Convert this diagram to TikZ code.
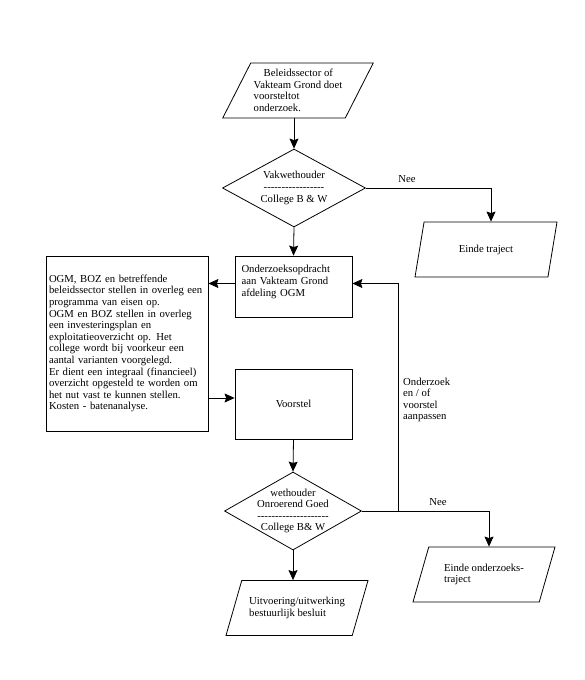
\documentclass[tikz,border=0pt]{standalone}
\usepackage{fontspec}
\setmainfont{Liberation Serif}
\usetikzlibrary{shapes.geometric, arrows.meta}

\newcommand{\dashrow}[1]{\foreach \k in {1,...,#1}{-\kern0pt}}

\begin{document}
\begin{tikzpicture}[x = 1pt, y = -1pt,
	font = \fontsize{10.7}{11.6}\selectfont,
	flow/.style = {line width = 0.8pt, -{Stealth[length = 10pt, width = 9pt, inset = 1.5pt]}},
	block/.style = {draw, rectangle, line width = 0.8pt},
	choice/.style = {draw, diamond, aspect = 1.8, line width = 0.8pt, align = center, inner sep = -5pt},
	io/.style = {draw, trapezium, trapezium left angle = 60, trapezium right angle = 120, trapezium stretches body, line width = 0.8pt, align = left, inner sep = 3pt, minimum width = 142pt, minimum height = 55pt}]

	\useasboundingbox (0, 0) rectangle (585, 680);

	\node[io] (start) at (298, 90.5) {\hspace*{10pt}Beleidssector of\\Vakteam Grond doet\\voorsteltot\\onderzoek.};
	\node[choice, minimum width = 143pt, minimum height = 78pt] (vw) at (294, 188) {Vakwethouder\\\dashrow{17}\\College B \& W};
	\node[io] (et) at (486, 249.5) {Einde traject};

	\node[block, minimum width = 117pt, minimum height = 61pt, text width = 104pt, inner xsep = 6.5pt, align = left] (opdr) at (293.5, 286.5) {Onderzoeksopdracht\\aan Vakteam Grond\\afdeling OGM\\~};
	\node[block, minimum width = 162pt, minimum height = 175pt, text width = 156pt, inner xsep = 3pt, align = left] (pve) at (127, 343.5) {OGM, BOZ en betreffende\\beleidssector stellen in overleg een\\programma van eisen op.\\OGM en BOZ stellen in overleg\\een investeringsplan en\\exploitatieoverzicht op. Het\\college wordt bij voorkeur een\\aantal varianten voorgelegd.\\Er dient een integraal (financieel)\\overzicht opgesteld te worden om\\het nut vast te kunnen stellen.\\Kosten - batenanalyse.};
	\node[block, minimum width = 117pt, minimum height = 70pt] (vs) at (293.5, 404) {Voorstel};

	\node[choice, minimum width = 137pt, minimum height = 78pt] (og) at (293, 511) {wethouder\\Onroerend Goed\\\dashrow{20}\\College B\& W};
	\node[io] (eo) at (484, 574.5) {Einde onderzoeks-\\traject};
	\node[io] (uit) at (297, 608) {Uitvoering/uitwerking\\bestuurlijk besluit};

	\node (nee1) at (407, 179) {Nee};
	\node (nee2) at (438, 502) {Nee};
	\node[align = left, anchor = west, inner sep = 0pt] (aanp) at (403, 400) {Onderzoek\\en / of\\voorstel\\aanpassen};

	\coordinate (split) at (398, 511);
	\coordinate (opdrW) at ([yshift = 3pt]opdr.west);
	\coordinate (opdrE) at ([yshift = 3pt]opdr.east);
	\coordinate (vsW) at ([yshift = 6pt]vs.west);

	\draw[flow] (vw.north |- start.south) -- (vw.north);
	\draw[flow] (vw.east) -| ([xshift = 5pt]et.north);
	\draw[flow] (vw.south) -- (opdr.north);
	\draw[flow] (opdrW) -- (opdrW -| pve.east);
	\draw[flow] (vsW -| pve.east) -- (vsW);
	\draw[flow] (vs.south) -- (og.north);
	\draw[flow] (og.east) -| ([xshift = 5pt]eo.north);
	\draw[flow] (og.south) -- (og.south |- uit.north);
	\draw[flow] (split) |- (opdrE);

\end{tikzpicture}
\end{document}
